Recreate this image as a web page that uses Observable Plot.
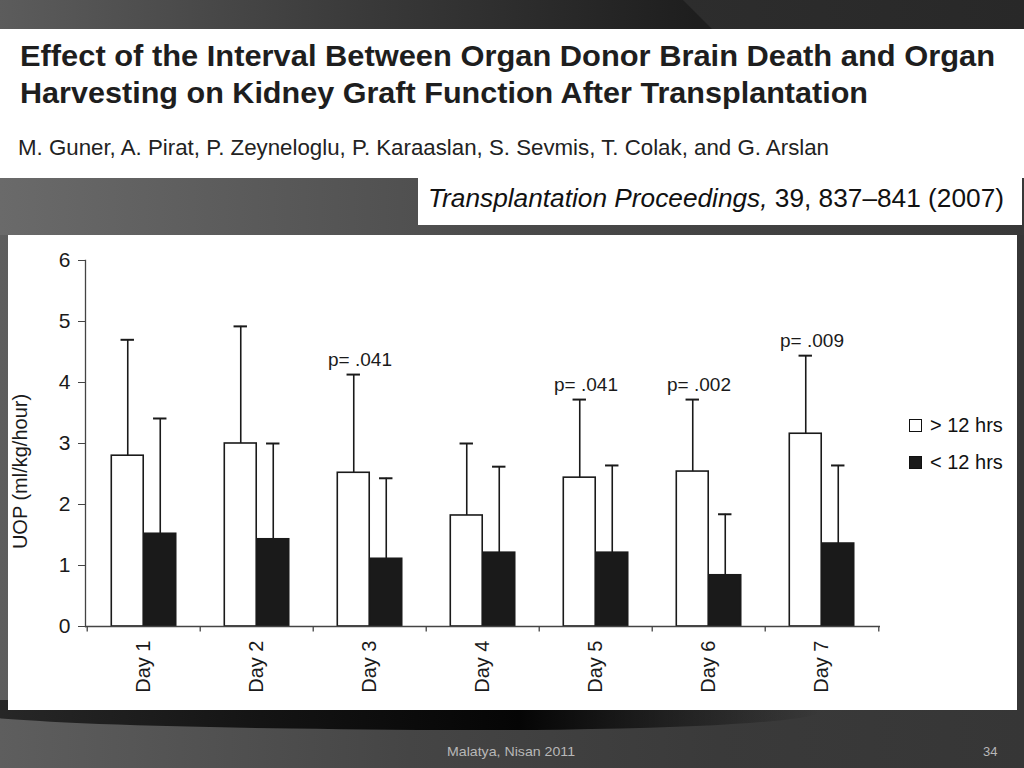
<!DOCTYPE html>
<html>
<head>
<meta charset="utf-8">
<script src="https://cdn.jsdelivr.net/npm/d3@7"></script>
<script src="https://cdn.jsdelivr.net/npm/@observablehq/plot@0.6"></script>
<style>
  html, body { margin: 0; padding: 0; }
  body {
    width: 1024px; height: 768px; overflow: hidden; position: relative;
    font-family: "Liberation Sans", Arial, sans-serif;
    background: linear-gradient(90deg, #5e5e5e 0%, #454545 40%, #3a3a3a 70%, #363636 100%);
  }
  .abs { position: absolute; }
  .fit { display: inline-block; transform-origin: 0 0; white-space: nowrap; }
  #topstrip { left: 0; top: 0; width: 1024px; height: 29px;
    background: linear-gradient(90deg, #5c5c5c 0%, #3a3a3a 35%, #232323 62%, #1e1e1e 68%); }
  #topright { left: 0; top: 0; width: 1024px; height: 29px;
    background: linear-gradient(90deg, #333 0%, #2e2e2e 60%, #282828 100%);
    clip-path: polygon(683px 0, 1024px 0, 1024px 29px, 712px 29px); }
  #header { left: 0; top: 29px; width: 1024px; height: 149px; background: #fff; }
  #title1, #title2 { left: 20px; font-weight: bold; font-size: 30px; color: #1e1e1e; }
  #title1 { top: 39px; }
  #title2 { top: 76px; }
  #authors { left: 18px; top: 135px; font-size: 22px; color: #222; }
  #midband { left: 0; top: 178px; width: 1024px; height: 57px;
    background: linear-gradient(90deg, #6a6a6a 0%, #4a4a4a 50%, #383838 100%); }
  #journal { left: 418px; top: 178px; width: 604px; height: 47px; background: #fff; }
  #journalText { left: 428px; top: 184px; font-size: 25px; color: #111; }
  #panel { left: 8px; top: 235px; width: 1009px; height: 475px; background: #fff; }
  #swoosh { left: -40px; top: 700px; width: 860px; height: 30px;
    background: linear-gradient(90deg, #2a2a2a 0%, #141414 35%, #050505 65%, rgba(0,0,0,0) 100%);
    border-radius: 0 0 60% 100% / 0 0 100% 100%; }
  #footer { left: 447px; top: 744px; font-size: 13px; color: #b8b8b8; }
  #pagenum { left: 983px; top: 744px; font-size: 13px; color: #b8b8b8; }
  #legend { left: 909px; top: 407px; font-size: 20px; color: #111; }
  #legend .row { display: flex; align-items: center; height: 37px; }
  #legend .sw { width: 13px; height: 13px; box-sizing: border-box; border: 1.5px solid #111; margin-right: 8px; }
</style>
</head>
<body>
<div id="topstrip" class="abs"></div>
<div id="topright" class="abs"></div>
<div id="midband" class="abs"></div>
<div id="header" class="abs"></div>
<div id="title1" class="abs fit" data-w="975">Effect of the Interval Between Organ Donor Brain Death and Organ</div>
<div id="title2" class="abs fit" data-w="848">Harvesting on Kidney Graft Function After Transplantation</div>
<div id="authors" class="abs fit" data-w="811">M. Guner, A. Pirat, P. Zeyneloglu, P. Karaaslan, S. Sevmis, T. Colak, and G. Arslan</div>
<div id="journal" class="abs"></div>
<div id="journalText" class="abs fit" data-w="576"><i>Transplantation Proceedings,</i> 39, 837–841 (2007)</div>
<div id="swoosh" class="abs"></div>
<div id="panel" class="abs"></div>
<div id="legend" class="abs"></div>
<div id="footer" class="abs fit" data-w="128">Malatya, Nisan 2011</div>
<div id="pagenum" class="abs">34</div>
<script>
// ---- data ----
const days = ["Day 1", "Day 2", "Day 3", "Day 4", "Day 5", "Day 6", "Day 7"];
const seriesNames = ["> 12 hrs", "< 12 hrs"];
const gtMean  = [2.80, 3.00, 2.52, 1.82, 2.44, 2.54, 3.16];   // > 12 hrs mean
const gtUpper = [4.70, 4.92, 4.13, 3.00, 3.72, 3.72, 4.44];   // > 12 hrs mean + SD
const ltMean  = [1.52, 1.43, 1.11, 1.21, 1.21, 0.84, 1.36];   // < 12 hrs mean
const ltUpper = [3.41, 3.00, 2.43, 2.62, 2.64, 1.84, 2.64];   // < 12 hrs mean + SD
const pDays   = ["Day 3", "Day 5", "Day 6", "Day 7"];
const pLabels = ["p= .041", "p= .041", "p= .002", "p= .009"];
const yTicks  = [0, 1, 2, 3, 4, 5, 6];
const yLabel  = "UOP (ml/kg/hour)";

// ---- tables ----
const gt = days.map((d, i) => ({day: d, mean: gtMean[i], upper: gtUpper[i]}));
const lt = days.map((d, i) => ({day: d, mean: ltMean[i], upper: ltUpper[i]}));
const pData = pDays.map((d, i) => ({day: d, label: pLabels[i], upper: gtUpper[days.indexOf(d)]}));

// ---- layout ----
const W = 1009, H = 475, ML = 77, MR = 137, MT = 25, MB = 84;
const bw = (W - ML - MR) / days.length;
const barW = 32.5, capW = 14;
const ink = "#1a1a1a";

const chart = Plot.plot({
  width: W, height: H,
  marginLeft: ML, marginRight: MR, marginTop: MT, marginBottom: MB,
  style: {fontFamily: "'Liberation Sans', Arial, sans-serif", color: ink, background: "transparent"},
  x: {type: "band", domain: days, padding: 0},
  y: {domain: [0, 6]},
  marks: [
    Plot.barY(gt, {x: "day", y: "mean", fill: "white", stroke: ink, strokeWidth: 1.6,
      insetLeft: bw / 2 - barW, insetRight: bw / 2}),
    Plot.barY(lt, {x: "day", y: "mean", fill: ink, stroke: ink, strokeWidth: 1.6,
      insetLeft: bw / 2, insetRight: bw / 2 - barW}),
    Plot.ruleX(gt, {x: "day", y1: "mean", y2: "upper", dx: -barW / 2, stroke: ink, strokeWidth: 1.6}),
    Plot.ruleX(lt, {x: "day", y1: "mean", y2: "upper", dx: barW / 2, stroke: ink, strokeWidth: 1.6}),
    Plot.tickY(gt, {x: "day", y: "upper", stroke: ink, strokeWidth: 2,
      insetLeft: bw / 2 - barW / 2 - capW / 2, insetRight: bw / 2 + barW / 2 - capW / 2}),
    Plot.tickY(lt, {x: "day", y: "upper", stroke: ink, strokeWidth: 2,
      insetLeft: bw / 2 + barW / 2 - capW / 2, insetRight: bw / 2 - barW / 2 - capW / 2}),
    Plot.text(pData, {x: "day", y: "upper", text: "label", lineAnchor: "bottom", dy: -9, dx: -10,
      fontSize: 19, fill: ink}),
    Plot.ruleY([0], {stroke: "#444", strokeWidth: 1.3}),
    Plot.frame({anchor: "left", stroke: "#444", strokeWidth: 1.3}),
    Plot.ruleX(days, {x: d => d, y1: 0, y2: -0.09, dx: -bw / 2, stroke: "#444", strokeWidth: 1.3}),
    Plot.ruleX(days.slice(-1), {x: d => d, y1: 0, y2: -0.09, dx: bw / 2, stroke: "#444", strokeWidth: 1.3}),
    Plot.axisY({ticks: yTicks, tickFormat: "d", tickSize: 7, tickPadding: 8, fontSize: 21, label: null, stroke: "#444"}),
    Plot.axisX({tickSize: 0, tickPadding: 14, tickRotate: -90, fontSize: 20, label: null}),
    Plot.text([yLabel], {frameAnchor: "left", rotate: -90, textAnchor: "middle", dx: -65, dy: 28, fontSize: 20, fill: ink})
  ]
});
chart.style.position = "absolute";
chart.style.left = "0px";
chart.style.top = "0px";
document.getElementById("panel").appendChild(chart);

const legend = document.getElementById("legend");
seriesNames.forEach((name, i) => {
  const row = document.createElement("div");
  row.className = "row";
  const sw = document.createElement("div");
  sw.className = "sw";
  sw.style.background = i === 0 ? "#fff" : ink;
  const t = document.createElement("span");
  t.textContent = name;
  row.appendChild(sw);
  row.appendChild(t);
  legend.appendChild(row);
});

document.querySelectorAll(".fit").forEach(el => {
  const w = el.getBoundingClientRect().width;
  const target = +el.dataset.w;
  if (w > 0 && target) el.style.transform = `scaleX(${target / w})`;
});
</script>
</body>
</html>
